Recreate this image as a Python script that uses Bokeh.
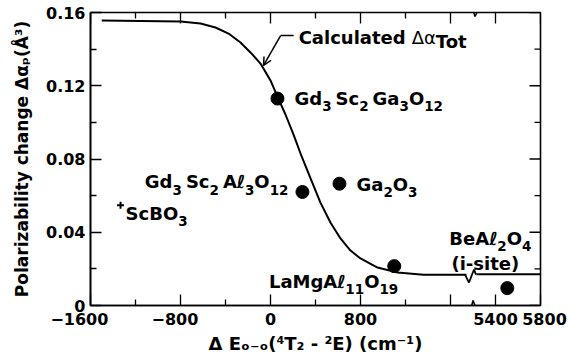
from bokeh.plotting import figure
from bokeh.models import Range1d, FixedTicker, Arrow, OpenHead, ColumnDataSource
from bokeh.core.properties import value
from bokeh.embed import file_html
from bokeh.resources import INLINE

# ---------------- data ----------------
curve_left_x = [-1500, -800, -622, -489, -373, -267, -178, -89, 0, 62, 133, 204, 267,
                356, 444, 533, 622, 711, 800, 951, 1129, 1360, 1600, 1742]
curve_left_y = [0.1556, 0.1551, 0.1540, 0.1518, 0.1485, 0.1436, 0.1382, 0.1321, 0.1229,
                0.1141, 0.1043, 0.0934, 0.0830, 0.0694, 0.0562, 0.0453, 0.0366, 0.0300,
                0.0257, 0.0207, 0.0180, 0.0168, 0.0168, 0.0168]
curve_right_x = [5230, 5800]
curve_right_y = [0.0170, 0.0170]

pt_names = ["Gd3Sc2Ga3O12", "Gd3Sc2Al3O12", "Ga2O3", "LaMgAl11O19", "BeAl2O4"]
pt_x = [62, 284, 613, 1100, 5505]
pt_y = [0.113, 0.062, 0.0665, 0.0215, 0.0095]
# label texts, split into (text, kind) pieces; kind: b=bold, n=normal, sub, sup, gap
pt_label_pieces = [
    [("Gd", "b"), ("3", "sub"), (4, "gap"), ("Sc", "b"), ("2", "sub"), (4, "gap"), ("Ga", "b"), ("3", "sub"), ("O", "b"), ("12", "sub")],
    [("Gd", "b"), ("3", "sub"), (4, "gap"), ("Sc", "b"), ("2", "sub"), (4, "gap"), ("A\u2113", "b"), ("3", "sub"), ("O", "b"), ("12", "sub")],
    [("Ga", "b"), ("2", "sub"), ("O", "b"), ("3", "sub")],
    [("LaMgA\u2113", "b"), ("11", "sub"), ("O", "b"), ("19", "sub")],
    [("BeA\u2113", "b"), ("2", "sub"), ("O", "b"), ("4", "sub")],
]
site_label = [("(i-site)", "b")]

scbo3_x = [-1333]
scbo3_y = [0.0548]
scbo3_pieces = [("ScBO", "b"), ("3", "sub")]

calc_pieces = [("Calculated", "b"), (6, "gap"), ("\u0394\u03b1", "n"), ("Tot", "low")]
x_title = "\u0394 E\u2092\u208b\u2092(\u2074T\u2082 - \u00b2E) (cm\u207b\u00b9)"
y_title = "Polarizability change \u0394\u03b1\u209a(\u00c5\u00b3)"

x_major_real = [-1600, -800, 0, 800, 5400, 5800]
x_major_text = ["\u22121600\u2007\u2007", "\u2212800\u2007", "0", "800", "5400", "\u20025800"]
x_extra_major_real = [1600]           # long tick, no label
x_minor_real = [-1200, -400, 400, 1200]
y_major = [0, 0.04, 0.08, 0.12, 0.16]
y_major_text = ["0", "0.04", "0.08", "0.12", "0.16"]
y_minor = [0.02, 0.06, 0.10, 0.14]

# ---------------- broken axis mapping ----------------
SHIFT = 3400
BREAK = 1800


def disp(v):
    return v if v < 5000 else v - SHIFT


X0, X1, Y0, Y1 = -1600, 2400, 0.0, 0.16
FW, FH = 450, 293
sx = (X1 - X0) / FW
sy = (Y1 - Y0) / FH
FONT = "DejaVu Sans"

WB = {' ': .348, 'A': .774, 'B': .762, 'C': .734, 'E': .683, 'G': .821, 'L': .637, 'M': .995, 'O': .850,
      'P': .733, 'S': .721, 'T': .682, 'a': .675, 'b': .716, 'c': .593, 'd': .716, 'e': .678,
      'g': .716, 'i': .343, 'l': .343, 'o': .687, 'r': .493, 's': .595, 't': .478, 'u': .712,
      '(': .457, ')': .457, '-': .415, '\u2113': .45}
for d in "0123456789":
    WB[d] = .696
WN = {'\u0394': .684, '\u03b1': .659, ' ': .318}


def piece_w(t, kind, F):
    if kind == "gap":
        return t
    size = F * 0.75 if kind in ("sub", "sup") else F
    tbl = WN if kind == "n" else WB
    return sum(tbl.get(c, .65) for c in t) * size


def layout(pieces, F):
    out, cur = [], 0.0
    for t, kind in pieces:
        w = piece_w(t, kind, F)
        if kind != "gap":
            size = F * 0.75 if kind in ("sub", "sup") else F
            shift = {"sub": 0.42 * F, "sup": -0.25 * F, "low": 0.25 * F}.get(kind, 0.0)
            out.append((t, cur, shift, size, "normal" if kind == "n" else "bold"))
        cur += w
    return out, cur


p = figure(width=568, height=362, output_backend="svg", toolbar_location=None,
           x_range=Range1d(X0, X1), y_range=Range1d(Y0, Y1),
           min_border_left=90, min_border_right=28, min_border_top=12, min_border_bottom=57)
p.grid.visible = False
p.outline_line_color = "black"
p.outline_line_width = 1.6
p.background_fill_color = "white"
p.border_fill_color = "white"


def style_axis(ax):
    ax.axis_line_width = 1.6
    ax.axis_line_color = "black"
    ax.major_tick_in = 11
    ax.major_tick_out = 0
    ax.minor_tick_in = 6
    ax.minor_tick_out = 0
    ax.major_tick_line_width = 1.3
    ax.minor_tick_line_width = 1.3
    ax.major_label_text_font = FONT
    ax.major_label_text_font_style = "bold"
    ax.major_label_text_font_size = "16px"
    ax.major_label_text_color = "black"
    ax.axis_label_text_font = FONT
    ax.axis_label_text_font_style = "bold"
    ax.axis_label_text_color = "black"


style_axis(p.xaxis[0])
p.xaxis[0].ticker = FixedTicker(ticks=[disp(v) for v in x_major_real], minor_ticks=[disp(v) for v in x_minor_real])
p.xaxis[0].major_label_overrides = {disp(v): t for v, t in zip(x_major_real, x_major_text)}
p.xaxis[0].major_label_standoff = 4
p.xaxis[0].axis_label = x_title
p.xaxis[0].axis_label_text_font_size = "18px"
p.xaxis[0].axis_label_standoff = 1

style_axis(p.yaxis[0])
p.yaxis[0].ticker = FixedTicker(ticks=y_major, minor_ticks=y_minor)
p.yaxis[0].major_label_overrides = {v: t for v, t in zip(y_major, y_major_text)}
p.yaxis[0].major_label_standoff = 5
p.yaxis[0].axis_label = y_title
p.yaxis[0].axis_label_text_font_size = "17px"
p.yaxis[0].axis_label_standoff = 11

# mirrored ticks on top and right edges + unlabeled long tick at 1600
tx_major = [disp(v) for v in x_major_real + x_extra_major_real]
tx_minor = [disp(v) for v in x_minor_real]
p.segment(tx_major, [Y1] * len(tx_major), tx_major, [Y1 - 11 * sy] * len(tx_major), line_width=1.3, color="black")
p.segment(tx_minor, [Y1] * len(tx_minor), tx_minor, [Y1 - 6 * sy] * len(tx_minor), line_width=1.3, color="black")
bx = [disp(v) for v in x_extra_major_real]
p.segment(bx, [Y0] * len(bx), bx, [Y0 + 11 * sy] * len(bx), line_width=1.3, color="black")
p.segment([X1] * len(y_major), y_major, [X1 - 11 * sx] * len(y_major), y_major, line_width=1.3, color="black")
p.segment([X1] * len(y_minor), y_minor, [X1 - 6 * sx] * len(y_minor), y_minor, line_width=1.3, color="black")

# ---------------- curve ----------------
p.line([disp(v) for v in curve_left_x], curve_left_y, line_width=2, line_color="black")
p.line([disp(v) for v in curve_right_x], curve_right_y, line_width=2, line_color="black")

# ---------------- points ----------------
dx = [disp(v) for v in pt_x]
p.scatter(dx, pt_y, size=13, color="black")
p.scatter([disp(v) for v in scbo3_x], scbo3_y, marker="cross", size=7, line_width=2, line_color="black")


def rich_glyph(x, y, pieces, ox, oy, align, F):
    items, total = layout(pieces, F)
    start = ox - {"left": 0, "center": total / 2, "right": total}[align]
    for t, cur, shift, size, style in items:
        p.text([x], [y], text=[t], x_offset=start + cur, y_offset=oy + shift, text_align="left",
               text_baseline="middle", text_font=value(FONT), text_font_style=style,
               text_font_size=f"{size:.1f}px", text_color="black")


F = 18
offs = [(17, 0, "left"), (-14, -10, "right"), (17, 1, "left"), (4, 15, "right"), (-17, -50, "center")]
for i, (ox, oy, al) in enumerate(offs):
    rich_glyph(dx[i], pt_y[i], pt_label_pieces[i], ox, oy, al, F)
rich_glyph(dx[4], pt_y[4], site_label, -22, -25, "center", F)
rich_glyph(disp(scbo3_x[0]), scbo3_y[0], scbo3_pieces, 5, 8, "left", F)

# ---------------- "Calculated" annotation ----------------
ann_x, ann_y = 250, 0.1466
rich_glyph(ann_x, ann_y, calc_pieces, 0, 0, "left", F)
lead_start = (ann_x - 5 * sx, ann_y + 1.5 * sy)
lead_elbow = (ann_x - 18 * sx, ann_y + 1.5 * sy)
lead_tip = (-62, 0.1311)
p.add_layout(Arrow(end=None, x_start=lead_start[0], y_start=lead_start[1],
                   x_end=lead_elbow[0], y_end=lead_elbow[1], line_width=1.5))
p.add_layout(Arrow(end=OpenHead(size=8, line_width=1.5), x_start=lead_elbow[0], y_start=lead_elbow[1],
                   x_end=lead_tip[0], y_end=lead_tip[1], line_width=1.5))


# ---------------- break marks ----------------
def zig(y_base, pts):
    xs0, ys0, xs1, ys1 = [], [], [], []
    for (a, b), (c, d) in zip(pts[:-1], pts[1:]):
        xs0.append(BREAK + a * sx); ys0.append(y_base - b * sy)
        xs1.append(BREAK + c * sx); ys1.append(y_base - d * sy)
    return ColumnDataSource(dict(x0=xs0, y0=ys0, x1=xs1, y1=ys1))


for src, lw in [
    (zig(Y1, [(-5, 0), (-1, -7), (2, 4), (4, 0)]), 1.6),
    (zig(Y0, [(-6, 0), (-3, 7), (0, -5), (2, 0)]), 1.6),
    (zig(0.0169, [(-8, 0), (-4, 8), (1, -5), (3, 0)]), 1.8),
]:
    p.add_layout(Arrow(end=None, source=src, x_start="x0", y_start="y0", x_end="x1", y_end="y1",
                       line_width=lw, line_color="black"))

open("out.html", "w").write(file_html(p, INLINE))
